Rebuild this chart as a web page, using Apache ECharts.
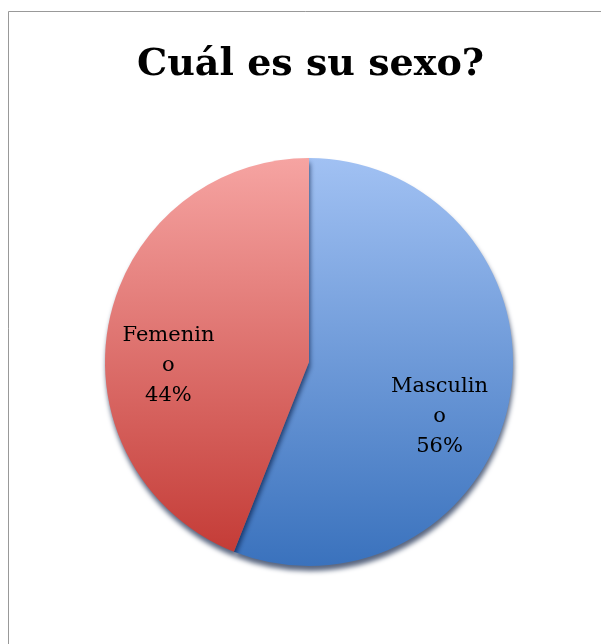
<!DOCTYPE html>
<html>
<head>
<meta charset="utf-8">
<script src="https://cdn.jsdelivr.net/npm/echarts@6/dist/echarts.min.js"></script>
<style>
html,body{margin:0;padding:0;background:#fff;}
#c{width:601px;height:644px;}
</style>
</head>
<body>
<div id="c"></div>
<script>
const titleText = "Cuál es su sexo?";
const categories = ["Masculino", "Femenino"];
const values = [56, 44];
const topColors = ["#A1C1F3", "#F6A4A2"];
const bottomColors = ["#3A72BD", "#C43C37"];

const chart = echarts.init(document.getElementById('c'), null, {renderer: 'canvas'});

const pieData = categories.map((c, i) => ({
  name: c,
  value: values[i],
  itemStyle: {
    color: new echarts.graphic.LinearGradient(0, 0, 0, 1, [
      {offset: 0, color: topColors[i]},
      {offset: 1, color: bottomColors[i]}
    ])
  }
}));

const center = [309, 362];
const R = 204;

chart.setOption({
  animation: false,
  backgroundColor: '#ffffff',
  title: {
    text: titleText,
    left: 132,
    top: 41,
    textStyle: {
      fontFamily: 'DejaVu Serif',
      fontWeight: 'bold',
      fontSize: 38,
      color: '#000'
    }
  },
  graphic: [{
    type: 'rect',
    shape: {x: 8.5, y: 11.5, width: 700, height: 700},
    style: {fill: 'none', stroke: '#999999', lineWidth: 1},
    silent: true
  }],
  series: [
    {
      type: 'pie',
      center: center,
      radius: [0, R],
      startAngle: 90,
      clockwise: true,
      data: pieData,
      label: {show: false},
      labelLine: {show: false},
      itemStyle: {
        borderWidth: 0,
        shadowBlur: 5,
        shadowOffsetY: 5,
        shadowOffsetX: 1,
        shadowColor: 'rgba(0,20,60,0.65)'
      },
      emphasis: {disabled: true},
      silent: true
    },
    {
      type: 'pie',
      center: center,
      radius: [66, R],
      startAngle: 90,
      clockwise: true,
      data: categories.map((c, i) => ({name: c, value: values[i]})),
      itemStyle: {color: 'rgba(0,0,0,0)'},
      label: {
        show: true,
        position: 'inside',
        formatter: '{b}\n{d}%',
        fontFamily: 'DejaVu Serif',
        fontSize: 21,
        lineHeight: 30,
        color: '#000',
        width: 100,
        overflow: 'breakAll',
        align: 'center'
      },
      labelLayout: {dx: -5, dy: 29},
      labelLine: {show: false},
      emphasis: {disabled: true},
      silent: true
    }
  ]
});
</script>
</body>
</html>
